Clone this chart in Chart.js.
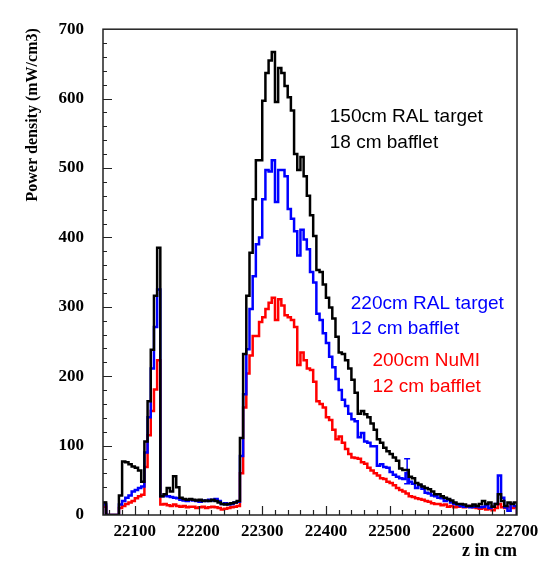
<!DOCTYPE html>
<html>
<head>
<meta charset="utf-8">
<script src="https://cdn.jsdelivr.net/npm/chart.js@4.4.1/dist/chart.umd.min.js"></script>
<style>
  html, body { margin: 0; padding: 0; background: #fff; }
  canvas { display: block; }
</style>
</head>
<body>
<canvas id="chart" width="551" height="562"></canvas>
<script>
// 5 cm bins from z = 22050 to 22700 cm
const binStart = 22050;
const binWidth = 5;

// Power density per bin (mW/cm3)
const ral150 = [
  18, 0, 0, 0, 0, 28, 77, 76, 73, 70, 68, 64, 48, 106, 164, 238, 316, 385,
  27, 30, 39, 34, 56, 40, 25, 23, 22, 23, 22, 21, 22, 20, 21, 20, 22, 20, 18, 16, 15, 16, 17, 18, 20,
  111, 232, 316, 378, 455, 511, 511, 597, 637, 655, 667, 595, 644, 637, 618, 602, 583, 520, 497, 516,
  488, 460, 432, 402, 353, 350, 332, 313, 299, 283, 257, 234, 232, 223, 211, 195,
  176, 146, 150, 145, 141, 132, 123, 109, 104, 97, 92, 88, 83, 78, 67, 65, 65, 55, 53, 46, 44, 41,
  39, 37, 34, 30, 30, 27, 25, 23, 21, 18, 16, 16, 15, 13, 13, 15, 13, 16, 20, 16, 18, 12, 16, 30,
  20, 13, 18, 16, 18
];
const ral220 = [
  15, 0, 0, 0, 0, 15, 20, 25, 28, 34, 36, 39, 41, 90, 141, 211, 271, 325,
  27, 28, 27, 26, 25, 24, 22, 21, 20, 22, 21, 20, 19, 21, 20, 22, 21, 23, 20, 16, 17, 15, 16, 18, 19,
  85, 174, 239, 297, 344, 390, 400, 455, 497, 495, 511, 451, 497, 497, 488, 441, 427, 409, 374, 411,
  397, 383, 350, 335, 290, 281, 262, 248, 228, 213, 196, 180, 166, 157, 146, 138,
  135, 112, 118, 106, 104, 99, 99, 71, 73, 69, 68, 62, 58, 55, 53, 52, 60, 48, 45, 39, 43, 38,
  32, 31, 28, 27, 25, 24, 20, 22, 18, 16, 15, 13, 12, 13, 11, 12, 13, 11, 12, 14, 10, 12, 16, 57,
  25, 11, 6, 16, 13
];
const numi200 = [
  12, 0, 0, 0, 0, 10, 13, 16, 18, 20, 24, 27, 29, 69, 115, 150, 181, 223,
  15, 16, 14, 13, 15, 13, 12, 13, 11, 12, 12, 10, 11, 12, 10, 11, 12, 11, 10, 8, 9, 10, 11, 12, 13,
  60, 155, 204, 230, 258, 258, 278, 285, 297, 306, 313, 281, 311, 302, 288, 285, 281, 271, 216, 234,
  223, 211, 209, 192, 164, 160, 155, 141, 137, 123, 109, 113, 104, 95, 88, 83,
  82, 81, 76, 74, 68, 64, 60, 57, 53, 52, 48, 46, 43, 39, 36, 34, 31, 27, 26, 24, 23, 22,
  20, 19, 17, 16, 16, 14, 15, 12, 13, 11, 12, 13, 11, 12, 13, 11, 10, 9, 10, 8, 9, 7, 10, 16,
  11, 10, 12, 10, 11
];

// error bar on the 220cm curve
const errBarZ = 22527.5;
const errBarLow = 45;
const errBarHigh = 81;

const xTickValues = [22100, 22200, 22300, 22400, 22500, 22600, 22700];
const yTickValues = [0, 100, 200, 300, 400, 500, 600, 700];
const yTitle = 'Power density (mW/cm3)';

// legend text blocks: [z, value, text, colour]
const notes = [
  [22406, 574, '150cm RAL target', '#000'],
  [22406, 537, '18 cm bafflet', '#000'],
  [22439, 305, '220cm RAL target', '#0000ff'],
  [22439, 269, '12 cm bafflet', '#0000ff'],
  [22473, 222, '200cm NuMI', '#ff0000'],
  [22473, 185, '12 cm bafflet', '#ff0000']
];

const serifFamily = '"Liberation Serif", "Times New Roman", serif';

// turn bin contents into a closed step outline
function histSteps(values) {
  const pts = [{x: binStart, y: 0}];
  values.forEach((v, i) => pts.push({x: binStart + i * binWidth, y: v}));
  const end = binStart + values.length * binWidth;
  pts.push({x: end, y: values[values.length - 1]});
  pts.push({x: end, y: 0});
  return pts;
}

function histDataset(values, color) {
  return {
    data: histSteps(values),
    borderColor: color,
    borderWidth: 2.5,
    stepped: true,
    pointRadius: 0,
    fill: false
  };
}

// frame, inward ticks, y title and the text blocks
const frameAndTicks = {
  id: 'frameAndTicks',
  afterDatasetsDraw(chart) {
    const {ctx, chartArea: a, scales: {x, y}} = chart;
    ctx.save();
    ctx.strokeStyle = '#222';
    ctx.lineWidth = 1.5;
    ctx.strokeRect(a.left, a.top, a.right - a.left, a.bottom - a.top);

    ctx.beginPath();
    for (let z = 22060; z < 22700; z += 20) {
      const px = Math.round(x.getPixelForValue(z)) + 0.5;
      const len = z % 100 === 0 ? 9 : 5;
      ctx.moveTo(px, a.bottom);
      ctx.lineTo(px, a.bottom - len);
    }
    for (let v = 20; v < 700; v += 20) {
      const py = Math.round(y.getPixelForValue(v)) + 0.5;
      const len = v % 100 === 0 ? 9 : 4;
      ctx.moveTo(a.left, py);
      ctx.lineTo(a.left + len, py);
    }
    ctx.lineWidth = 1.2;
    ctx.stroke();

    // axis title, right-aligned to the top of the frame
    ctx.save();
    ctx.translate(33, a.top - 1);
    ctx.rotate(-Math.PI / 2);
    ctx.font = 'bold 16px ' + serifFamily;
    ctx.fillStyle = '#000';
    ctx.textAlign = 'right';
    ctx.textBaseline = 'middle';
    ctx.fillText(yTitle, 0, 0);
    ctx.restore();

    ctx.font = '19px "Liberation Sans", Arial, sans-serif';
    ctx.textBaseline = 'middle';
    ctx.textAlign = 'left';
    notes.forEach(([z, v, text, color]) => {
      ctx.fillStyle = color;
      ctx.fillText(text, x.getPixelForValue(z), y.getPixelForValue(v));
    });
    ctx.restore();
  }
};

const tickFont = {family: serifFamily, weight: 'bold', size: 17};

new Chart(document.getElementById('chart'), {
  type: 'line',
  data: {
    datasets: [
      histDataset(ral150, '#000000'),
      histDataset(ral220, '#0000ff'),
      histDataset(numi200, '#ff0000'),
      {
        data: [{x: errBarZ, y: errBarLow}, {x: errBarZ, y: errBarHigh}],
        borderColor: '#0000ff',
        borderWidth: 1.5,
        pointStyle: 'line',
        pointRadius: 3,
        pointBorderColor: '#0000ff',
        pointBorderWidth: 1.5
      }
    ]
  },
  options: {
    responsive: false,
    animation: false,
    devicePixelRatio: 1,
    layout: {padding: {top: 13, right: 34, left: 0, bottom: 0}},
    plugins: {legend: {display: false}, tooltip: {enabled: false}},
    scales: {
      x: {
        type: 'linear',
        min: 22050,
        max: 22700,
        grid: {display: false, drawTicks: false},
        border: {display: false},
        afterBuildTicks: axis => { axis.ticks = xTickValues.map(v => ({value: v})); },
        afterFit: axis => { axis.height = 47; },
        ticks: {
          padding: 6,
          color: '#000',
          maxRotation: 0,
          font: tickFont,
          callback: v => String(v)
        },
        title: {
          display: true,
          text: 'z in cm',
          align: 'end',
          color: '#000',
          padding: {top: 0, bottom: 0},
          font: {family: serifFamily, weight: 'bold', size: 18}
        }
      },
      y: {
        min: 0,
        max: 700,
        grid: {display: false, drawTicks: false},
        border: {display: false},
        afterBuildTicks: axis => { axis.ticks = yTickValues.map(v => ({value: v})); },
        afterFit: axis => { axis.width = 103; },
        ticks: {
          padding: 19,
          color: '#000',
          font: tickFont
        }
      }
    }
  },
  plugins: [frameAndTicks]
});
</script>
</body>
</html>
